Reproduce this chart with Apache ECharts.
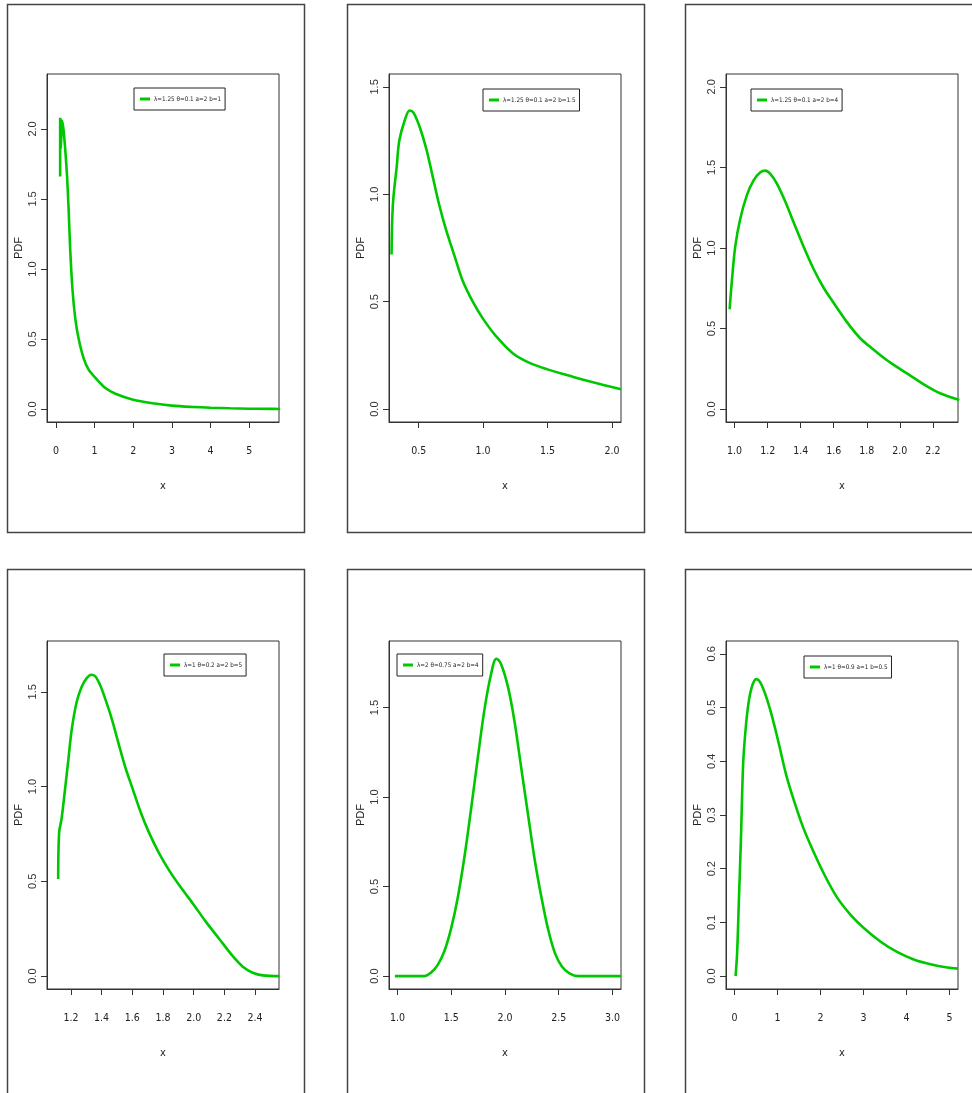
<!DOCTYPE html>
<html>
<head>
<meta charset="utf-8">
<script src="https://cdn.jsdelivr.net/npm/echarts@6/dist/echarts.min.js"></script>
<style>
  html, body { margin: 0; padding: 0; background: #fff; }
  #main { width: 972px; height: 1093px; }
</style>
</head>
<body>
<div id="main"></div>
<script>
// legend labels of the six panels
const names = [
    'λ=1.25 θ=0.1 a=2 b=1',
    'λ=1.25 θ=0.1 a=2 b=1.5',
    'λ=1.25 θ=0.1 a=2 b=4',
    'λ=1 θ=0.2 a=2 b=5',
    'λ=2 θ=0.75 a=2 b=4',
    'λ=1 θ=0.9 a=1 b=0.5'
]

// curve points
const x1 = [0.11, 0.11, 0.13, 0.155, 0.19, 0.24, 0.29, 0.33, 0.37, 0.43, 0.50, 0.59, 0.72, 0.85, 1.0, 1.28, 1.54, 2.0, 2.5, 3.0, 3.5, 4.0, 4.5, 5.0, 5.5, 5.8]
const y1 = [1.66, 2.08, 1.86, 2.06, 2.01, 1.86, 1.66, 1.42, 1.14, 0.85, 0.65, 0.50, 0.36, 0.28, 0.23, 0.15, 0.11, 0.067, 0.042, 0.025, 0.016, 0.01, 0.006, 0.003, 0.002, 0.001]

const x2 = [0.29, 0.30, 0.33, 0.35, 0.39, 0.43, 0.46, 0.51, 0.56, 0.61, 0.66, 0.71, 0.78, 0.84, 0.92, 1.0, 1.10, 1.23, 1.36, 1.5, 1.70, 1.86, 2.07]
const y2 = [0.72, 0.95, 1.13, 1.25, 1.34, 1.39, 1.38, 1.31, 1.21, 1.08, 0.95, 0.84, 0.71, 0.60, 0.50, 0.42, 0.34, 0.26, 0.215, 0.185, 0.15, 0.124, 0.092]

const x3 = [0.97, 0.984, 1.004, 1.034, 1.075, 1.115, 1.156, 1.186, 1.216, 1.256, 1.306, 1.357, 1.417, 1.478, 1.538, 1.599, 1.68, 1.76, 1.84, 1.92, 2.0, 2.08, 2.16, 2.24, 2.36]
const y3 = [0.62, 0.80, 1.01, 1.18, 1.33, 1.42, 1.47, 1.48, 1.46, 1.40, 1.29, 1.16, 1.01, 0.87, 0.755, 0.66, 0.54, 0.44, 0.37, 0.305, 0.25, 0.197, 0.144, 0.10, 0.056]

const x4 = [1.117, 1.123, 1.139, 1.16, 1.183, 1.205, 1.237, 1.27, 1.303, 1.332, 1.358, 1.39, 1.423, 1.467, 1.51, 1.555, 1.60, 1.654, 1.709, 1.774, 1.84, 1.917, 2.0, 2.08, 2.167, 2.255, 2.32, 2.385, 2.45, 2.56]
const y4 = [0.513, 0.757, 0.83, 0.975, 1.14, 1.30, 1.445, 1.527, 1.572, 1.59, 1.582, 1.536, 1.464, 1.355, 1.228, 1.10, 0.993, 0.866, 0.757, 0.649, 0.558, 0.467, 0.377, 0.286, 0.196, 0.105, 0.05, 0.018, 0.004, 0]

const x5 = [0.975, 1.25, 1.31, 1.374, 1.436, 1.498, 1.56, 1.623, 1.685, 1.748, 1.81, 1.87, 1.92, 1.963, 2.03, 2.09, 2.15, 2.215, 2.277, 2.34, 2.40, 2.464, 2.53, 2.60, 2.68, 3.08]
const y5 = [0, 0, 0.019, 0.063, 0.14, 0.265, 0.438, 0.668, 0.937, 1.225, 1.494, 1.686, 1.773, 1.744, 1.61, 1.417, 1.168, 0.90, 0.649, 0.438, 0.265, 0.13, 0.054, 0.015, 0, 0]

const x6 = [0.023, 0.06, 0.10, 0.148, 0.20, 0.257, 0.32, 0.40, 0.50, 0.59, 0.71, 0.86, 1.02, 1.21, 1.41, 1.60, 1.84, 2.07, 2.38, 2.69, 3.0, 3.4, 3.78, 4.17, 4.56, 4.95, 5.2]
const y6 = [0, 0.045, 0.141, 0.256, 0.397, 0.46, 0.506, 0.538, 0.553, 0.548, 0.526, 0.487, 0.436, 0.372, 0.32, 0.276, 0.231, 0.192, 0.147, 0.115, 0.09, 0.064, 0.045, 0.031, 0.022, 0.016, 0.014]

// tick labels
const xTicks = [
    [0, 1, 2, 3, 4, 5],
    [0.5, 1.0, 1.5, 2.0],
    [1.0, 1.2, 1.4, 1.6, 1.8, 2.0, 2.2],
    [1.2, 1.4, 1.6, 1.8, 2.0, 2.2, 2.4],
    [1.0, 1.5, 2.0, 2.5, 3.0],
    [0, 1, 2, 3, 4, 5]
]
const xDigits = [0, 1, 1, 1, 1, 0]
const yTicks = [
    [0, 0.5, 1.0, 1.5, 2.0],
    [0, 0.5, 1.0, 1.5],
    [0, 0.5, 1.0, 1.5, 2.0],
    [0, 0.5, 1.0, 1.5],
    [0, 0.5, 1.0, 1.5],
    [0, 0.1, 0.2, 0.3, 0.4, 0.5, 0.6]
]

const xs = [x1, x2, x3, x4, x5, x6]
const ys = [y1, y2, y3, y4, y5, y6]

// layout
const xRange = [[-0.23, 5.77], [0.27, 2.07], [0.948, 2.352], [1.044, 2.556], [0.92, 3.08], [-0.2, 5.2]]
const yRange = [[-0.092, 2.392], [-0.06, 1.56], [-0.08, 2.08], [-0.068, 1.768], [-0.072, 1.872], [-0.024, 0.624]]
const boxLeft = [47, 389, 726]
const boxTop = [74, 641]
const boxW = 232
const boxH = 348
const frameLeft = [7, 347, 685]
const frameTop = [4, 569]
const legendPos = [[134, 88], [483, 89], [751, 89], [164, 654], [397, 654], [804, 656]]

const narrow = "'Liberation Sans Narrow', 'DejaVu Sans Condensed', 'Liberation Sans', sans-serif"
const green = '#00c800'
const axisColor = '#333'

const chart = echarts.init(document.getElementById('main'))

const grid = [], xAxis = [], yAxis = [], series = [], legend = [], graphic = []
for (let i = 0; i < 6; i++) {
    const col = i % 3
    const row = Math.floor(i / 3)
    grid.push({
        left: boxLeft[col], top: boxTop[row], width: boxW, height: boxH,
        show: true, borderColor: axisColor, borderWidth: 1, backgroundColor: 'transparent'
    })
    xAxis.push({
        type: 'value', gridIndex: i, min: xRange[i][0], max: xRange[i][1],
        name: 'x', nameLocation: 'middle', nameGap: 59,
        nameTextStyle: { fontFamily: narrow, fontSize: 11, color: '#222' },
        axisLine: { show: true, onZero: false, lineStyle: { color: axisColor, width: 1 } },
        splitLine: { show: false },
        axisTick: { show: true, inside: false, length: 6, customValues: xTicks[i], lineStyle: { color: axisColor } },
        axisLabel: {
            customValues: xTicks[i], margin: 24, fontFamily: narrow, fontSize: 10.5, color: '#222',
            formatter: v => v.toFixed(xDigits[i])
        }
    })
    yAxis.push({
        type: 'value', gridIndex: i, min: yRange[i][0], max: yRange[i][1],
        name: 'PDF', nameLocation: 'middle', nameGap: 23, nameRotate: 90,
        nameTextStyle: { fontFamily: 'Liberation Sans', fontSize: 11, color: '#222' },
        axisLine: { show: true, onZero: false, lineStyle: { color: axisColor, width: 1 } },
        splitLine: { show: false },
        axisTick: { show: true, inside: false, length: 6, customValues: yTicks[i], lineStyle: { color: axisColor } },
        axisLabel: {
            customValues: yTicks[i], rotate: 90, margin: 9, fontFamily: 'Liberation Sans', fontSize: 11, color: '#333',
            formatter: v => v.toFixed(1)
        }
    })
    series.push({
        name: names[i], type: 'line', xAxisIndex: i, yAxisIndex: i,
        data: xs[i].map((x, k) => [x, ys[i][k]]),
        showSymbol: false, symbol: 'none', clip: true,
        smooth: i === 0 ? 0.2 : 0.35,
        lineStyle: { color: green, width: 2.6 },
        itemStyle: { color: green },
        animation: false
    })
    legend.push({
        data: [names[i]], left: legendPos[i][0], top: legendPos[i][1],
        orient: 'horizontal',
        backgroundColor: '#fff', borderColor: '#222', borderWidth: 1,
        padding: [8, 4, 8, 6],
        itemWidth: 10, itemHeight: 3, itemGap: 4,
        icon: 'rect',
        selectedMode: false,
        textStyle: { fontFamily: narrow, fontSize: 6.3, color: '#222', padding: [0, 0, 0, -1] }
    })
    graphic.push({
        type: 'rect', silent: true,
        shape: { x: frameLeft[col] + 0.5, y: frameTop[row] + 0.5, width: 297, height: 528 },
        style: { fill: 'none', stroke: '#444', lineWidth: 1.5 }
    })
}

chart.setOption({
    animation: false,
    backgroundColor: '#fff',
    grid, xAxis, yAxis, series, legend, graphic
})
</script>
</body>
</html>
